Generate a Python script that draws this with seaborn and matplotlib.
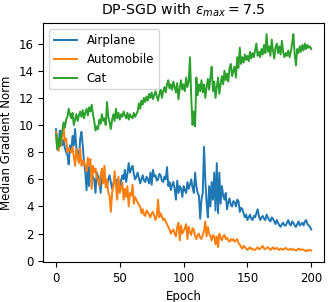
import numpy as np
import pandas as pd
import matplotlib
matplotlib.use("Agg")
import matplotlib.pyplot as plt
import seaborn as sns

# values, one per epoch (0..200)
epochs = list(range(201))

airplane = [
    9.7, 9.0, 8.2, 9.6, 9.2, 8.5, 8.9, 8.3, 8.0, 7.8,
    7.1, 8.5, 8.0, 9.2, 8.5, 9.7, 8.3, 8.0, 7.5, 9.0,
    9.5, 8.5, 7.3, 6.5, 5.2, 7.0, 5.5, 7.0, 6.5, 6.2,
    6.0, 5.0, 6.5, 6.2, 6.0, 5.0, 6.3, 5.8, 6.0, 5.7,
    5.5, 6.0, 6.3, 5.8, 5.3, 5.7, 6.0, 5.6, 6.0, 5.8,
    5.5, 5.9, 6.3, 6.0, 6.7, 5.8, 6.4, 7.2, 6.5, 6.8,
    7.0, 6.4, 6.0, 6.2, 6.5, 6.1, 5.7, 6.0, 6.3, 5.9,
    5.8, 6.2, 6.0, 5.7, 6.5, 5.6, 6.7, 6.2, 6.3, 5.9,
    6.0, 6.4, 6.3, 5.9, 5.8, 6.2, 6.0, 6.9, 5.5, 5.8,
    5.2, 5.6, 5.8, 5.3, 4.5, 5.9, 5.0, 5.5, 5.3, 4.7,
    5.5, 5.2, 5.0, 5.8, 5.3, 5.6, 6.0, 5.4, 5.0, 6.5,
    5.5, 5.0, 4.8, 3.1, 4.5, 5.0, 8.4, 6.0, 4.3, 3.2,
    5.5, 4.0, 5.8, 4.5, 6.5, 3.7, 7.2, 3.5, 6.5, 4.2,
    5.5, 4.8, 4.5, 5.0, 3.8, 4.3, 4.6, 4.1, 4.0, 4.4,
    4.3, 4.0, 4.5, 4.4, 3.6, 3.9, 3.8, 3.5, 3.2, 3.4,
    3.0, 3.2, 3.4, 3.1, 3.0, 3.3, 3.2, 3.5, 3.8, 3.3,
    3.0, 3.2, 3.3, 3.1, 3.0, 3.4, 3.2, 3.0, 2.9, 3.2,
    3.1, 2.9, 2.7, 3.0, 2.8, 2.6, 2.5, 2.7, 2.8, 2.6,
    2.6, 2.8, 3.0, 2.7, 2.6, 2.9, 2.8, 2.6, 2.5, 2.7,
    2.9, 2.6, 2.7, 2.8, 2.6, 2.9, 3.0, 2.7, 2.6, 2.5,
    2.3,
]

automobile = [
    9.5, 9.0, 8.1, 8.8, 8.5, 9.2, 10.0, 8.8, 9.0, 8.0,
    8.3, 8.1, 8.0, 8.4, 7.7, 7.0, 8.2, 7.6, 7.2, 8.3,
    7.0, 7.4, 7.3, 7.0, 6.6, 7.6, 7.0, 7.5, 5.3, 7.0,
    6.5, 6.8, 6.2, 5.9, 5.5, 6.3, 6.8, 5.7, 7.0, 5.4,
    6.0, 5.0, 4.8, 3.6, 5.0, 5.5, 6.6, 5.5, 4.5, 6.2,
    5.0, 5.4, 5.8, 4.5, 5.3, 4.7, 5.5, 4.0, 5.0, 4.8,
    5.6, 4.2, 4.7, 4.5, 4.3, 4.1, 4.0, 3.5, 3.8, 3.4,
    3.3, 3.7, 3.6, 3.4, 3.2, 3.5, 3.6, 3.3, 3.0, 3.3,
    4.5, 3.2, 3.5, 3.3, 3.0, 3.1, 2.9, 2.7, 2.5, 2.3,
    2.0, 2.2, 2.3, 2.0, 1.8, 2.5, 2.8, 1.5, 2.6, 2.0,
    2.2, 2.4, 2.7, 1.6, 2.5, 2.1, 1.9, 2.4, 2.3, 1.8,
    1.6, 1.9, 2.0, 1.7, 1.6, 1.9, 2.2, 2.9, 1.8, 2.5,
    2.0, 1.8, 1.5, 1.9, 1.8, 1.2, 1.8, 1.0, 2.0, 1.7,
    1.5, 1.8, 1.9, 1.6, 1.7, 1.5, 1.4, 1.6, 1.5, 1.6,
    1.4, 1.5, 1.6, 1.3, 1.2, 1.0, 0.9, 1.1, 1.0, 0.9,
    0.8, 0.9, 1.0, 0.85, 0.9, 0.8, 0.8, 0.9, 1.0, 0.85,
    0.9, 1.0, 1.1, 0.9, 0.85, 0.95, 1.0, 0.9, 0.8, 0.9,
    1.0, 0.85, 0.9, 0.95, 0.85, 0.8, 0.9, 0.85, 0.8, 0.9,
    0.95, 0.85, 0.8, 0.85, 0.9, 0.8, 0.85, 0.8, 0.75, 0.8,
    0.9, 0.85, 0.8, 0.85, 0.8, 0.75, 0.7, 0.8, 0.75, 0.8,
    0.75,
]

cat = [
    9.3, 8.2, 9.0, 8.4, 9.2, 9.6, 10.2, 9.8, 10.4, 10.6,
    11.2, 10.8, 10.5, 10.9, 10.0, 10.4, 10.8, 10.3, 10.7, 11.0,
    10.6, 11.1, 10.5, 10.9, 11.2, 10.7, 11.3, 11.0, 11.5, 10.8,
    10.3, 9.6, 9.9, 9.7, 10.4, 10.1, 10.8, 10.3, 10.5, 10.0,
    11.7, 10.6, 10.2, 9.7, 10.4, 10.8, 10.3, 11.2, 10.5, 10.9,
    10.4, 10.8, 10.6, 11.0, 10.7, 10.5, 10.9, 10.4, 10.8, 10.6,
    10.5, 10.9, 10.6, 10.8, 11.0, 11.6, 11.2, 11.8, 11.5, 12.0,
    11.7, 12.1, 11.8, 12.3, 12.0, 12.4, 11.9, 12.2, 12.5, 12.1,
    11.8, 12.3, 12.6, 12.0, 12.5, 12.8, 12.4, 13.0, 13.3, 12.7,
    13.0, 12.6, 13.2, 12.8, 12.4, 13.1, 11.9, 12.7, 13.3, 12.6,
    13.0, 12.5, 13.5, 12.8, 13.2, 15.0, 12.0, 10.0, 11.0, 9.9,
    13.5, 12.2, 13.0, 12.5, 13.3, 12.4, 13.0, 12.0, 12.8, 13.4,
    12.6, 13.5, 14.3, 12.5, 13.2, 12.0, 12.8, 13.5, 12.3, 13.0,
    13.6, 13.0, 14.0, 13.3, 13.8, 13.2, 14.2, 14.5, 13.6, 14.0,
    14.3, 13.5, 15.0, 14.2, 15.7, 14.5, 15.0, 14.6, 15.2, 14.8,
    15.1, 14.7, 15.4, 14.9, 15.3, 15.0, 15.5, 16.0, 15.1, 15.4,
    15.0, 15.6, 15.2, 15.9, 15.3, 16.7, 15.4, 15.8, 15.1, 16.3,
    15.5, 14.9, 15.7, 16.0, 15.3, 15.8, 15.2, 16.2, 15.4, 15.0,
    15.3, 15.1, 15.5, 15.0, 15.4, 16.0, 16.7, 15.2, 14.4, 15.6,
    15.3, 15.8, 15.4, 15.9, 15.5, 16.0, 15.6, 15.9, 15.7, 15.8,
    15.6,
]

classes = ["Airplane", "Automobile", "Cat"]
colors = ["#1f77b4", "#ff7f0e", "#2ca02c"]

df = pd.DataFrame({
    "Epoch": epochs * 3,
    "Median Gradient Norm": airplane + automobile + cat,
    "Class": [c for c in classes for _ in epochs],
})

plt.rcParams["font.size"] = 8.5
plt.rcParams["axes.titlesize"] = 10.2

fig, ax = plt.subplots(figsize=(3.32, 3.02), dpi=100)

sns.lineplot(
    data=df,
    x="Epoch",
    y="Median Gradient Norm",
    hue="Class",
    hue_order=classes,
    palette=colors,
    linewidth=1.4,
    ax=ax
)

ax.set_title(r"DP-SGD with $\epsilon_{max} = 7.5$")
ax.set_xticks([0, 50, 100, 150, 200])
ax.set_yticks([0, 2, 4, 6, 8, 10, 12, 14, 16])

handles, labels = ax.get_legend_handles_labels()
ax.legend(handles, labels, loc="upper left", title=None)

fig.subplots_adjust(left=0.13, right=0.976, top=0.923, bottom=0.132)
fig.savefig("out.png", dpi=100)
